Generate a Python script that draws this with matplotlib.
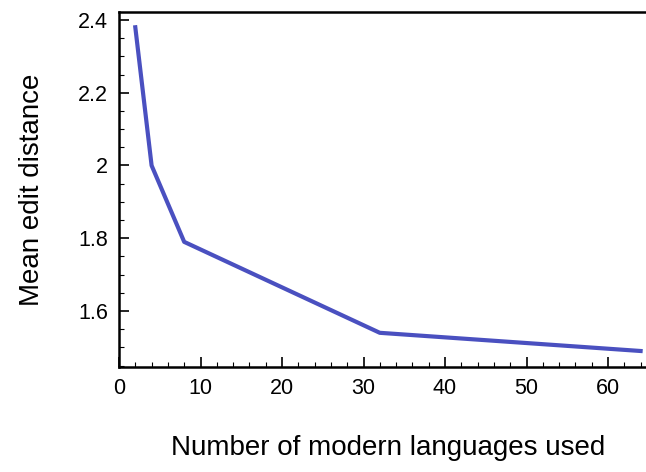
import numpy as np
import matplotlib
matplotlib.use("Agg")
import matplotlib.pyplot as plt
from matplotlib.ticker import MultipleLocator, FuncFormatter

plt.rcParams['font.family'] = ['Liberation Sans', 'DejaVu Sans']

n_languages = [2, 4, 8, 32, 64]
edit_distance = [2.38, 2.0, 1.79, 1.54, 1.49]

W, H = 646, 472
fig = plt.figure(figsize=(W / 100, H / 100), dpi=100)

# axes box in pixels; right edge runs off the figure
x0, x1 = 119, 119 + 66 * 8.15
y_top, y_bot = 12, 367
ax = fig.add_axes([x0 / W, (H - y_bot) / H, (x1 - x0) / W, (y_bot - y_top) / H])

ax.plot(n_languages, edit_distance, color="#4a50c0", lw=3.0, solid_joinstyle="round")

ax.set_xlim(0, 66)
ax.set_ylim(1.446, 2.422)

ax.xaxis.set_major_locator(MultipleLocator(10))
ax.xaxis.set_minor_locator(MultipleLocator(2))
ax.yaxis.set_major_locator(MultipleLocator(0.2))
ax.yaxis.set_minor_locator(MultipleLocator(0.05))

fmt = FuncFormatter(lambda v, p: f"{v:.1f}".rstrip("0").rstrip(".") if abs(v - round(v)) > 1e-9 else f"{int(round(v))}")
ax.yaxis.set_major_formatter(fmt)

ax.tick_params(which="both", direction="in", top=False, right=False, labelsize=15.5, colors="black")
ax.tick_params(which="major", length=7, width=1.2, pad=8)
ax.tick_params(which="minor", length=3.5, width=0.8)

for s in ["left", "bottom", "top", "right"]:
    ax.spines[s].set_linewidth(1.8)

ax.set_xlabel("Number of modern languages used", fontsize=20, labelpad=26)
ax.set_ylabel("Mean edit distance", fontsize=20, labelpad=24)

fig.savefig("out.png", dpi=100)
